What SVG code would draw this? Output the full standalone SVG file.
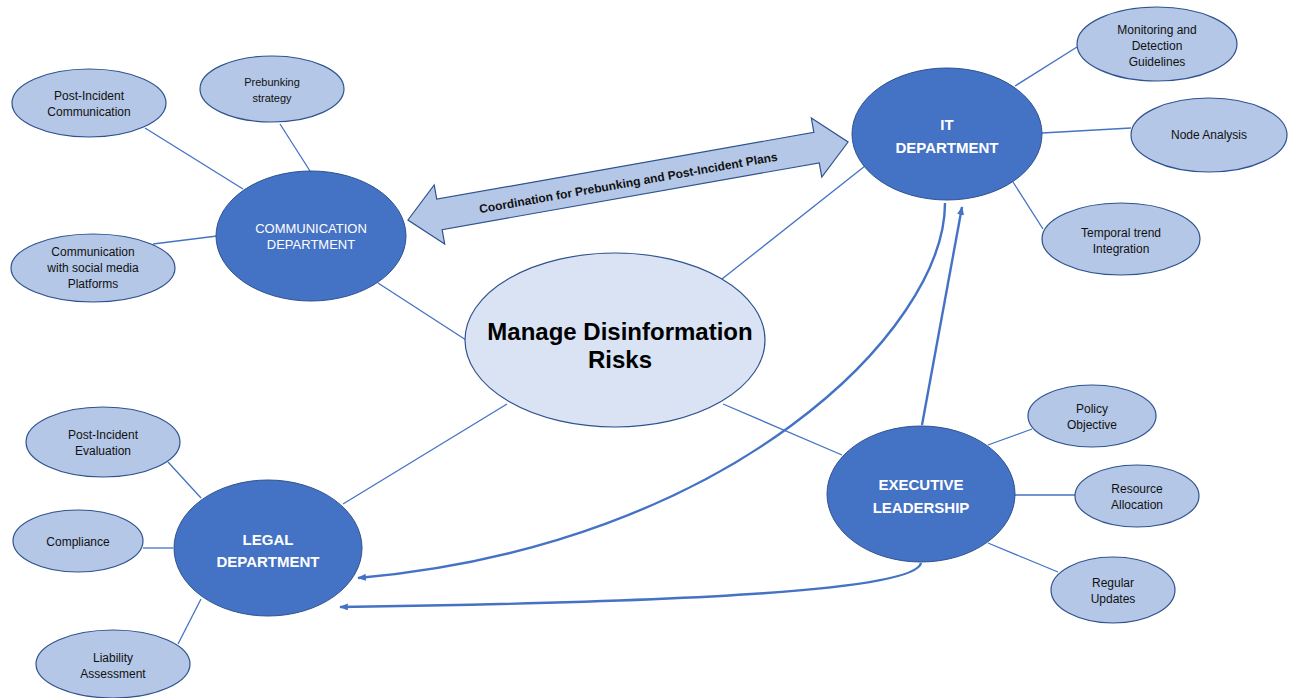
<svg xmlns="http://www.w3.org/2000/svg" width="1289" height="698" viewBox="0 0 1289 698">
  <defs>
    <style>
      .hub { fill: #4472c4; stroke: #2f528f; stroke-width: 1; }
      .leaf { fill: #b4c7e7; stroke: #2f528f; stroke-width: 1.2; }
      .core { fill: #dae3f3; stroke: #2f528f; stroke-width: 1.2; }
      .link { stroke: #4472c4; stroke-width: 1.3; fill: none; }
      .flow { stroke: #4472c4; stroke-width: 2.4; fill: none; }
      .lt { font-family: "Liberation Sans", Arial, sans-serif; font-size: 12px; fill: #111; text-anchor: middle; }
      .ht { font-family: "Liberation Sans", Arial, sans-serif; font-size: 15px; font-weight: bold; fill: #fff; text-anchor: middle; }
      .hts { font-family: "Liberation Sans", Arial, sans-serif; font-size: 13px; fill: #fff; text-anchor: middle; }
      .ct { font-family: "Liberation Sans", Arial, sans-serif; font-size: 24px; font-weight: bold; fill: #000; text-anchor: middle; }
      .at { font-family: "Liberation Sans", Arial, sans-serif; font-size: 12px; font-weight: bold; fill: #111; text-anchor: middle; }
    </style>
    <marker id="tip" viewBox="0 0 10 8" refX="9" refY="4" markerWidth="9" markerHeight="7" markerUnits="userSpaceOnUse" orient="auto">
      <path d="M0,0 L10,4 L0,8 z" fill="#4472c4"/>
    </marker>
  </defs>

  <!-- connectors -->
  <g id="connectors">
    <!-- communication department spokes -->
    <line class="link" x1="145" y1="128" x2="243" y2="189"/>
    <line class="link" x1="280" y1="124" x2="310" y2="171"/>
    <line class="link" x1="153" y1="244" x2="217" y2="236"/>
    <line class="link" x1="378" y1="283" x2="466" y2="340"/>
    <!-- IT department spokes -->
    <line class="link" x1="1015" y1="86" x2="1077" y2="47"/>
    <line class="link" x1="1042" y1="133" x2="1131" y2="128"/>
    <line class="link" x1="1013" y1="182" x2="1043" y2="229"/>
    <line class="link" x1="865" y1="166" x2="722" y2="279"/>
    <!-- legal department spokes -->
    <line class="link" x1="168" y1="462" x2="201" y2="498"/>
    <line class="link" x1="143" y1="548" x2="173" y2="548"/>
    <line class="link" x1="178" y1="644" x2="201" y2="599"/>
    <line class="link" x1="343" y1="504" x2="507" y2="404"/>
    <!-- executive leadership spokes -->
    <line class="link" x1="988" y1="445" x2="1032" y2="429"/>
    <line class="link" x1="1015" y1="495" x2="1075" y2="495"/>
    <line class="link" x1="988" y1="543" x2="1058" y2="572"/>
    <line class="link" x1="842" y1="455" x2="723" y2="404"/>
    <!-- directed flows -->
    <path class="flow" d="M945,203 C945,330 730,545 358,578" marker-end="url(#tip)"/>
    <path class="flow" d="M922,425 L962,207" marker-end="url(#tip)"/>
    <path class="flow" d="M921,563 C915,590 700,602 340,607" marker-end="url(#tip)"/>
    <!-- two-way coordination arrow -->
    <g transform="translate(628,181) rotate(-10.05)">
      <polygon points="-223.5,0 -191.5,-30 -191.5,-15.5 191.5,-15.5 191.5,-30 223.5,0 191.5,30 191.5,15.5 -191.5,15.5 -191.5,30" fill="#b4c7e7" stroke="#2f528f" stroke-width="1.2" stroke-linejoin="miter"/>
      <text class="at" x="0" y="6">Coordination for Prebunking and Post-Incident Plans</text>
    </g>
  </g>

  <!-- central topic -->
  <g id="core">
    <ellipse class="core" cx="615" cy="340" rx="150" ry="87"/>
    <text class="ct" x="620" y="340">Manage Disinformation</text>
    <text class="ct" x="620" y="368">Risks</text>
  </g>

  <!-- communication department -->
  <g id="comm">
    <ellipse class="hub" cx="311" cy="236" rx="95" ry="65"/>
    <text class="hts" x="311" y="233">COMMUNICATION</text>
    <text class="hts" x="311" y="249">DEPARTMENT</text>
  </g>
  <g id="comm-post">
    <ellipse class="leaf" cx="89" cy="103" rx="77" ry="34"/>
    <text class="lt" x="89" y="100">Post-Incident</text>
    <text class="lt" x="89" y="116">Communication</text>
  </g>
  <g id="comm-prebunk">
    <ellipse class="leaf" cx="272" cy="89" rx="72" ry="33"/>
    <text class="lt" x="272" y="86" style="font-size:11px">Prebunking</text>
    <text class="lt" x="272" y="102" style="font-size:11px">strategy</text>
  </g>
  <g id="comm-social">
    <ellipse class="leaf" cx="93" cy="268" rx="82" ry="34"/>
    <text class="lt" x="93" y="256">Communication</text>
    <text class="lt" x="93" y="272">with social media</text>
    <text class="lt" x="93" y="288">Platforms</text>
  </g>

  <!-- IT department -->
  <g id="it">
    <ellipse class="hub" cx="947" cy="134" rx="95" ry="66"/>
    <text class="ht" x="947" y="130">IT</text>
    <text class="ht" x="947" y="153">DEPARTMENT</text>
  </g>
  <g id="it-monitor">
    <ellipse class="leaf" cx="1157" cy="44" rx="80" ry="37"/>
    <text class="lt" x="1157" y="34">Monitoring and</text>
    <text class="lt" x="1157" y="50">Detection</text>
    <text class="lt" x="1157" y="66">Guidelines</text>
  </g>
  <g id="it-node">
    <ellipse class="leaf" cx="1209" cy="135" rx="78" ry="37"/>
    <text class="lt" x="1209" y="139">Node Analysis</text>
  </g>
  <g id="it-temporal">
    <ellipse class="leaf" cx="1121" cy="239" rx="79" ry="36"/>
    <text class="lt" x="1121" y="237">Temporal trend</text>
    <text class="lt" x="1121" y="253">Integration</text>
  </g>

  <!-- legal department -->
  <g id="legal">
    <ellipse class="hub" cx="268" cy="548" rx="94" ry="68"/>
    <text class="ht" x="268" y="545">LEGAL</text>
    <text class="ht" x="268" y="567">DEPARTMENT</text>
  </g>
  <g id="legal-eval">
    <ellipse class="leaf" cx="103" cy="442" rx="77" ry="35"/>
    <text class="lt" x="103" y="439">Post-Incident</text>
    <text class="lt" x="103" y="455">Evaluation</text>
  </g>
  <g id="legal-compliance">
    <ellipse class="leaf" cx="78" cy="541" rx="65" ry="31"/>
    <text class="lt" x="78" y="546">Compliance</text>
  </g>
  <g id="legal-liability">
    <ellipse class="leaf" cx="113" cy="664" rx="77" ry="34"/>
    <text class="lt" x="113" y="662">Liability</text>
    <text class="lt" x="113" y="678">Assessment</text>
  </g>

  <!-- executive leadership -->
  <g id="exec">
    <ellipse class="hub" cx="921" cy="494" rx="94" ry="68"/>
    <text class="ht" x="921" y="490">EXECUTIVE</text>
    <text class="ht" x="921" y="513">LEADERSHIP</text>
  </g>
  <g id="exec-policy">
    <ellipse class="leaf" cx="1092" cy="416" rx="64" ry="31"/>
    <text class="lt" x="1092" y="413">Policy</text>
    <text class="lt" x="1092" y="429">Objective</text>
  </g>
  <g id="exec-resource">
    <ellipse class="leaf" cx="1137" cy="496" rx="62" ry="31"/>
    <text class="lt" x="1137" y="493">Resource</text>
    <text class="lt" x="1137" y="509">Allocation</text>
  </g>
  <g id="exec-updates">
    <ellipse class="leaf" cx="1113" cy="590" rx="62" ry="33"/>
    <text class="lt" x="1113" y="587">Regular</text>
    <text class="lt" x="1113" y="603">Updates</text>
  </g>
</svg>
